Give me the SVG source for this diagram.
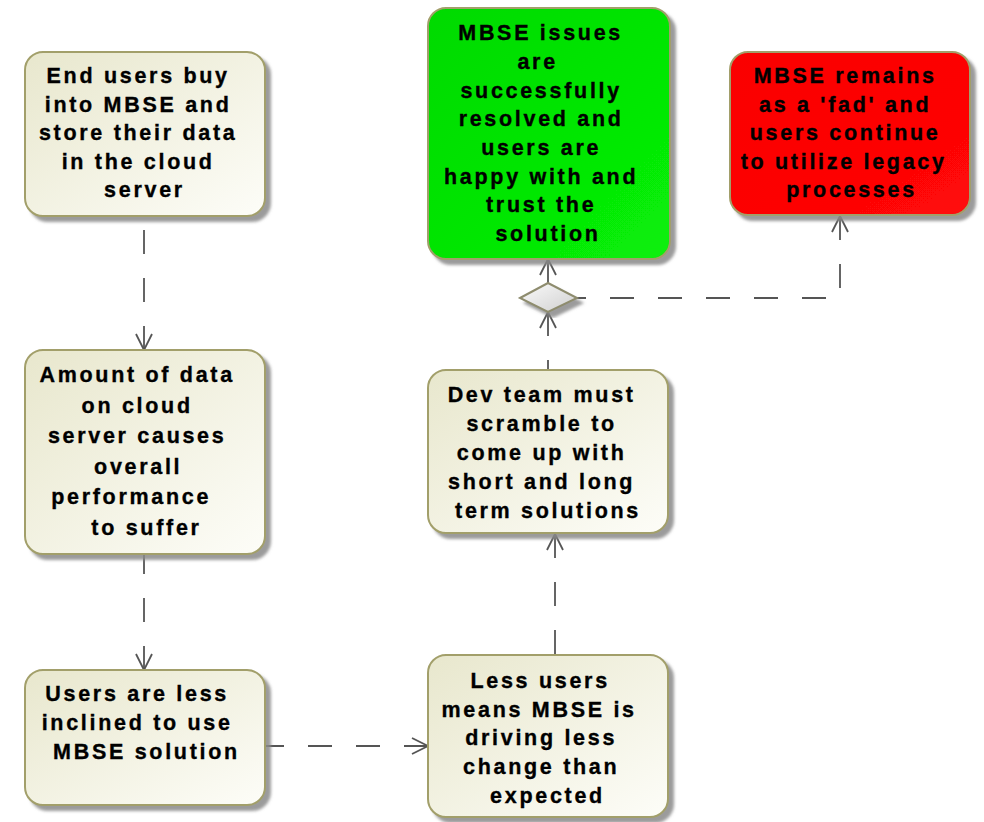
<svg xmlns="http://www.w3.org/2000/svg" width="984" height="822" viewBox="0 0 984 822">
  <defs>
    <linearGradient id="gBeige" x1="0" y1="0" x2="1" y2="1">
      <stop offset="0" stop-color="#e8e7cd"/>
      <stop offset="1" stop-color="#fdfdf8"/>
    </linearGradient>
    <linearGradient id="gGreen" x1="0" y1="0" x2="1" y2="1">
      <stop offset="0" stop-color="#00da00"/>
      <stop offset="1" stop-color="#08f008"/>
    </linearGradient>
    <linearGradient id="gRed" x1="0" y1="0" x2="1" y2="1">
      <stop offset="0" stop-color="#fa0000"/>
      <stop offset="1" stop-color="#ff0808"/>
    </linearGradient>
    <linearGradient id="gDia" x1="0" y1="0" x2="1" y2="1">
      <stop offset="0" stop-color="#fbfbfb"/>
      <stop offset="1" stop-color="#cfcfcf"/>
    </linearGradient>
    <filter id="shadow" x="-10%" y="-10%" width="130%" height="130%">
      <feGaussianBlur in="SourceAlpha" stdDeviation="1.5" result="b"/>
      <feOffset in="b" dx="5" dy="5" result="o"/>
      <feFlood flood-color="#8a8a8a" flood-opacity="0.85"/>
      <feComposite in2="o" operator="in" result="s"/>
      <feMerge>
        <feMergeNode in="s"/>
        <feMergeNode in="SourceGraphic"/>
      </feMerge>
    </filter>
    <marker id="ah" markerUnits="userSpaceOnUse" markerWidth="24" markerHeight="24" refX="0" refY="12" orient="auto" overflow="visible">
      <path d="M16,4 L0,12 L16,20" fill="none" stroke="#555555" stroke-width="1.8"/>
    </marker>
  </defs>
  <style>
    .box { stroke: #a29f6a; stroke-width: 2; filter: url(#shadow); }
    .beige { fill: url(#gBeige); }
    .green { fill: url(#gGreen); }
    .red { fill: url(#gRed); }
    .lbl { font-family: "Liberation Sans", Arial, sans-serif; font-weight: bold; font-size: 21.5px; letter-spacing: 2.7px; fill: #000; stroke: #000; stroke-width: 0.35px; text-anchor: middle; }
    .conn { fill: none; stroke: #555555; stroke-width: 1.8; stroke-dasharray: 24 24; marker-start: url(#ah); }
  </style>

  <g id="connectors">
    <path class="conn" d="M144,350 V217"/>
    <path class="conn" d="M144,670 V554"/>
    <path class="conn" d="M428,746 H265"/>
    <path class="conn" d="M555,534 V655"/>
    <path class="conn" d="M548,312 V370"/>
    <path class="conn" d="M548,259 V283"/>
    <path class="conn" d="M840,216 V298 H577"/>
  </g>

  <g id="n1">
    <rect class="box beige" x="25" y="52" width="240" height="164" rx="18"/>
    <text class="lbl">
      <tspan x="142.5" y="83">End users buy</tspan>
      <tspan x="142.5" y="111.5">into MBSE and</tspan>
      <tspan x="142.5" y="140">store their data</tspan>
      <tspan x="142.5" y="168.5">in the cloud</tspan>
      <tspan x="144.5" y="197">server</tspan>
    </text>
  </g>

  <g id="n2">
    <rect class="box beige" x="25" y="350" width="240" height="204" rx="18"/>
    <text class="lbl">
      <tspan x="141.5" y="382">Amount of data</tspan>
      <tspan x="141.5" y="412.5">on cloud</tspan>
      <tspan x="141.5" y="443">server causes</tspan>
      <tspan x="142.5" y="473.5">overall</tspan>
      <tspan x="135.5" y="504">performance</tspan>
      <tspan x="146.5" y="534.5">to suffer</tspan>
    </text>
  </g>

  <g id="n3">
    <rect class="box beige" x="25" y="670" width="240" height="135" rx="18"/>
    <text class="lbl">
      <tspan x="141.5" y="701">Users are less</tspan>
      <tspan x="141.5" y="730">inclined to use</tspan>
      <tspan x="146.5" y="758.5">MBSE solution</tspan>
    </text>
  </g>

  <g id="n4">
    <rect class="box beige" x="428" y="655" width="240" height="162" rx="18"/>
    <text class="lbl">
      <tspan x="544.5" y="687.5">Less users</tspan>
      <tspan x="543.5" y="716.5">means MBSE is</tspan>
      <tspan x="545.5" y="745">driving less</tspan>
      <tspan x="545.5" y="774">change than</tspan>
      <tspan x="547.5" y="803">expected</tspan>
    </text>
  </g>

  <g id="n5">
    <rect class="box beige" x="428" y="370" width="240" height="163" rx="18"/>
    <text class="lbl">
      <tspan x="546" y="401.5">Dev team must</tspan>
      <tspan x="546" y="430.5">scramble to</tspan>
      <tspan x="546" y="459.5">come up with</tspan>
      <tspan x="546" y="488.5">short and long</tspan>
      <tspan x="548" y="517.5">term solutions</tspan>
    </text>
  </g>

  <g id="n6">
    <rect class="box green" x="428" y="8" width="242" height="251" rx="18"/>
    <text class="lbl">
      <tspan x="545" y="40">MBSE issues</tspan>
      <tspan x="542" y="69">are</tspan>
      <tspan x="545.5" y="97.5">successfully</tspan>
      <tspan x="545.5" y="126">resolved and</tspan>
      <tspan x="545.5" y="155">users are</tspan>
      <tspan x="545.5" y="183.5">happy with and</tspan>
      <tspan x="545.5" y="212">trust the</tspan>
      <tspan x="548" y="241">solution</tspan>
    </text>
  </g>

  <g id="n7">
    <rect class="box red" x="730" y="52" width="240" height="163" rx="18"/>
    <text class="lbl">
      <tspan x="849.5" y="83">MBSE remains</tspan>
      <tspan x="849.5" y="111.5">as a 'fad' and</tspan>
      <tspan x="849.5" y="140">users continue</tspan>
      <tspan x="848" y="168.5">to utilize legacy</tspan>
      <tspan x="851.5" y="197">processes</tspan>
    </text>
  </g>

  <g id="decision">
    <polygon points="520,298 548,283 577,298 548,312" fill="url(#gDia)" stroke="#8e8c6e" stroke-width="2" filter="url(#shadow)"/>
  </g>
</svg>
